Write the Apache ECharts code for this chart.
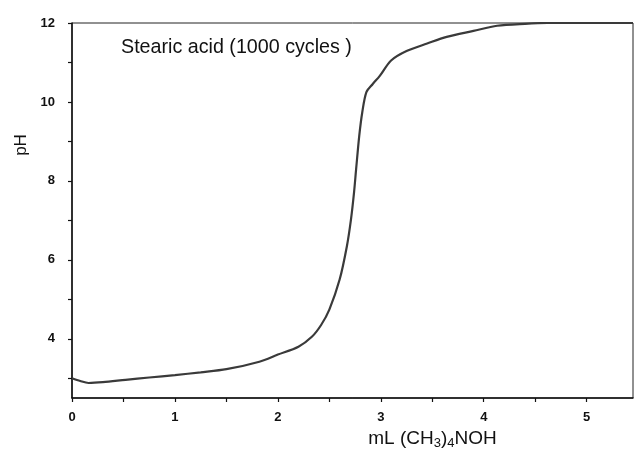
<!DOCTYPE html>
<html>
<head>
<meta charset="utf-8">
<script src="https://cdn.jsdelivr.net/npm/echarts@6/dist/echarts.min.js"></script>
<style>html,body{margin:0;padding:0;background:#fff}#c{width:637px;height:451px}</style>
</head>
<body>
<div id="c"></div>
<script>
var volume = [0, 0.08, 0.16, 0.3, 0.52, 0.75, 1.0, 1.25, 1.5, 1.82, 2.0, 2.2, 2.33, 2.42, 2.5, 2.6, 2.67, 2.71, 2.74, 2.76, 2.79, 2.82, 2.86, 2.92, 2.99, 3.1, 3.25, 3.45, 3.64, 3.9, 4.13, 4.4, 4.62, 4.85, 5.1, 5.3, 5.45];
var pH = [3.0, 2.93, 2.88, 2.9, 2.96, 3.02, 3.08, 3.15, 3.23, 3.42, 3.6, 3.8, 4.05, 4.35, 4.74, 5.5, 6.34, 7.02, 7.71, 8.29, 9.13, 9.74, 10.25, 10.45, 10.66, 11.05, 11.29, 11.48, 11.65, 11.8, 11.93, 11.98, 12.0, 12.0, 12.0, 12.0, 12.0];
var xLabels = [0, 1, 2, 3, 4, 5];
var xTicks = [0, 0.5, 1, 1.5, 2, 2.5, 3, 3.5, 4, 4.5, 5];
var yLabels = [4, 6, 8, 10, 12];
var yTicks = [3, 4, 5, 6, 7, 8, 9, 10, 11, 12];
var titleText = 'Stearic acid (1000 cycles )';

var data = volume.map(function (v, i) { return [v, pH[i]]; });
var chart = echarts.init(document.getElementById('c'));
var font = 'Liberation Sans, Arial, sans-serif';
chart.setOption({
  animation: false,
  backgroundColor: '#fff',
  grid: { left: 72, right: 4, top: 23, bottom: 53, containLabel: false, outerBoundsMode: 'none', show: true, borderColor: '#222', borderWidth: 1, backgroundColor: 'transparent' },
  xAxis: {
    type: 'value', min: 0, max: 5.45,
    name: '{a|mL (CH}{s|3}{a|)}{s|4}{a|NOH}',
    nameLocation: 'middle', nameGap: 27,
    nameTextStyle: { padding: [0, 0, 0, 160], rich: { a: { fontSize: 19, fontFamily: font, color: '#111' }, s: { fontSize: 13, fontFamily: font, color: '#111', verticalAlign: 'bottom', padding: [10, 0, 0, 0] } } },
    axisLine: { show: true, lineStyle: { color: '#111', width: 1.5 } },
    axisTick: { show: true, customValues: xTicks, length: 4, inside: false, lineStyle: { color: '#111', width: 1.2 } },
    axisLabel: { customValues: xLabels, fontSize: 13, fontWeight: 'bold', color: '#111', fontFamily: font, margin: 13 },
    splitLine: { show: false }
  },
  yAxis: {
    type: 'value', min: 2.5, max: 12,
    axisLine: { show: true, lineStyle: { color: '#111', width: 1.5 } },
    axisTick: { show: true, customValues: yTicks, length: 4, inside: false, lineStyle: { color: '#111', width: 1.2 } },
    axisLabel: { customValues: yLabels, fontSize: 13, fontWeight: 'bold', color: '#111', fontFamily: font, margin: 17 },
    splitLine: { show: false }
  },
  graphic: [
    { type: 'text', left: 121, top: 38, style: { text: titleText, fontSize: 19.7, fontFamily: font, fill: '#111' } },
    { type: 'text', x: 21, y: 145, rotation: Math.PI / 2, style: { text: 'pH', fontSize: 17, fontFamily: font, fill: '#111', align: 'center', verticalAlign: 'middle' } }
  ],
  series: [{
    type: 'line', data: data, showSymbol: false, smooth: 0.3,
    lineStyle: { color: '#3a3a3a', width: 2.2 }
  }]
});
</script>
</body>
</html>
